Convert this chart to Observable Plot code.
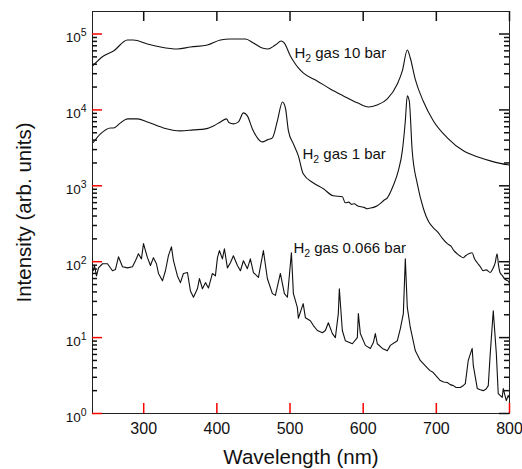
<!DOCTYPE html>
<html><head><meta charset="utf-8">
<script src="https://cdn.jsdelivr.net/npm/d3@7"></script>
<script src="https://cdn.jsdelivr.net/npm/@observablehq/plot@0.6"></script>
<style>body{margin:0;background:#fff;} svg{display:block}</style>
</head><body><div id="chart"></div>
<script>
// H2 gas 10 bar
const wl10 = [230,245,258.7,277.8,286,305,322.9,346,363.9,387,404.9,418.5,439,450,462,470,480,488,492,500.5,504.6,511.4,518,537,555,573,592,607,619,633,646.7,653.5,660.3,664.4,671,682,696,715,737,756,773.7,798,800];
const int10 = [37900,51400,59700,83400,83400,73800,67500,63500,67500,71600,83400,85900,85900,76200,65500,63500,71600,80900,76200,51400,44200,35700,30700,24100,18900,15300,12400,10900,11600,14000,22000,32600,61500,48300,25600,13100,7160,4290,2890,2410,2130,1890,1880];
// H2 gas 1 bar
const wl1 = [231,240.9,254.6,258.7,268.3,277.8,291.5,305,327,350.2,368,384.4,395.3,404.9,413,417,422.6,429.5,436.3,441.7,448.6,455.4,462.2,469,475.9,482.7,489.6,493.7,497.8,504.6,511.4,518,532,545.6,559,571.5,575.6,580,584,588,592,597,601,605.7,610,614,619.3,624,628,633,641,648,653.5,657.6,660.3,663,667,674,682,690,696,702,708,715,720,724,728.6,732,736.8,740,745,749,752,756,760,764,768,773.7,777,780.5,783,785,787,790,793,796,798,800];
const int1 = [3720,4830,5790,5790,6750,7620,7620,6950,5790,5300,5460,5620,6150,6950,7620,6750,6550,6950,9140,8340,5620,4290,3790,4030,4290,7160,12700,10600,5300,3570,2480,1440,1090,914,738,716,597,610,570,580,546,530,520,498,510,520,546,590,640,695,1000,1570,2890,7160,15300,13100,2890,1060,514,330,280,245,205,173,160,140,127,120,113,120,128,131,110,97,86,76,78,72,80,97,127,90,72,66,60,57,56,52];
// H2 gas 0.066 bar
const wl066 = [231,232.7,235.5,238.2,243.7,250.5,257.3,261.4,265.5,271,277.8,284.6,288.7,292.8,296.9,299.7,305.1,309.2,313.3,317.4,320.2,325.6,329.7,333.8,337.9,340.7,346.1,350.2,354.3,359.8,363.9,368,373.4,376.2,380.3,384.4,388.5,393.9,398,400.8,403.5,407.6,410.3,414.4,418.5,422.6,428.1,432.2,436.3,441.7,445.8,450,456.8,463.6,469,475.9,480,486.8,492.3,496.4,501.9,504.6,510,511.4,518,521,527.8,531.9,537.4,544.2,548.3,552.4,557.9,562,566,567.4,571.5,575.6,585.2,592,593.4,596.1,603,609.8,613.9,616.6,619.3,626.2,633,637.1,646.7,650.8,654.9,657.6,660.3,664.4,671.3,678,687.6,691,695.8,700,705.4,710,715,719,723.2,727,732.7,736,739.6,743.6,749,750.5,756,760,764.1,768,771,773.7,777.8,782,784.6,790,791.5,795.6,798.3,800];
const int066 = [76,89,65,83,94,94,76,79,116,86,83,86,103,127,109,173,113,89,113,94,70,56,76,120,157,103,65,53,70,72,41,34,44,60,44,53,45,70,65,113,140,109,148,83,97,120,89,76,103,81,109,72,62,140,60,38,36,70,38,34,131,38,25,18,28,18.3,16.7,14.4,12.4,11.6,12.4,15.7,11.3,10,20.7,44,12.4,9.1,8.3,10,20.7,11.3,7.9,7.2,8.6,11.3,8.3,7.2,6.7,7.9,9.1,13.1,20.7,109,25,13.6,6.7,5.0,4.0,3.7,3.46,3.1,2.72,2.6,2.56,2.4,2.33,2.2,2.2,2.3,2.48,5.0,7.2,4.3,2.13,2.05,2.0,2.1,2.33,6.2,22.6,6.2,1.83,1.63,2.13,1.48,1.73,1.6];

const seriesNames = ["10 bar", "1 bar", "0.066 bar"];
const labelTexts = ["H2 gas 10 bar", "H2 gas 1 bar", "H2 gas 0.066 bar"];
const labelWl = [506, 517, 504.6];
const labelI = [56000, 2600, 153];
const xTicks = [300, 400, 500, 600, 700, 800];
const yMajor = [1, 10, 100, 1000, 10000, 100000];
const yMinor = yMajor.flatMap(d => [2,3,4,5,6,7,8,9].map(k => k * d)).filter(v => v < 1.98e5);

const mk = (w, v, s) => w.map((x, i) => ({series: s, wl: x, I: v[i]}));
const rowsSmooth = [...mk(wl10, int10, seriesNames[0]), ...mk(wl1, int1, seriesNames[1])];
const rowsSharp = mk(wl066, int066, seriesNames[2]);
const labels = labelTexts.map((t, i) => ({text: t, wl: labelWl[i], I: labelI[i]}));

const W = 522, H = 469, mL = 92, mR = 13, mT = 11, mB = 56;
const fw = W - mL - mR, fh = H - mT - mB;
const font = "'Liberation Sans', Arial, Helvetica, sans-serif";
const plot = Plot.plot({
  width: W, height: H,
  marginLeft: mL, marginRight: mR, marginTop: mT, marginBottom: mB,
  style: {fontFamily: font},
  x: {domain: [230, 800]},
  y: {type: "log", domain: [1, 1.98e5]},
  marks: [
    Plot.frame({stroke: "#222"}),
    Plot.ruleX(xTicks, {insetTop: fh - 10, stroke: "red", strokeWidth: 1.5}),
    Plot.ruleX(xTicks, {insetBottom: fh - 10, stroke: "#111", strokeWidth: 1.5}),
    Plot.ruleY(yMajor, {insetRight: fw - 10, stroke: "red", strokeWidth: 1.5}),
    Plot.ruleY(yMinor, {insetRight: fw - 5, stroke: "#111", strokeWidth: 1.5}),
    Plot.ruleY(yMajor, {insetLeft: fw - 10, stroke: "#111", strokeWidth: 1.5}),
    Plot.ruleY(yMinor, {insetLeft: fw - 5, stroke: "#111", strokeWidth: 1.5}),
    Plot.axisX(xTicks, {anchor: "bottom", tickSize: 0, tickPadding: 9, label: null, fontSize: 16, fill: "#111"}),
    Plot.axisY(yMajor, {anchor: "left", tickSize: 0, tickPadding: 6, dy: 4, label: null, fontSize: 13.5, fill: "#111",
      tickFormat: d => "10^" + Math.round(Math.log10(d))}),
    Plot.line(rowsSmooth, {x: "wl", y: "I", z: "series", stroke: "#111", strokeWidth: 1.1, curve: "monotone-x"}),
    Plot.line(rowsSharp, {x: "wl", y: "I", stroke: "#111", strokeWidth: 1.1}),
    Plot.text(labels, {x: "wl", y: "I", text: "text", textAnchor: "start", fontSize: 15, fill: "#111"}),
    Plot.text(["Wavelength (nm)"], {frameAnchor: "bottom", textAnchor: "middle", lineAnchor: "middle", dy: 44, fontSize: 20.5, fill: "#111"}),
    Plot.text(["Intensity (arb. units)"], {frameAnchor: "left", textAnchor: "middle", lineAnchor: "middle", dx: -68, rotate: -90, fontSize: 20.5, fill: "#111"})
  ]
});

const NS = "http://www.w3.org/2000/svg";
function tspan(txt, attrs) {
  const e = document.createElementNS(NS, "tspan");
  for (const k in attrs) e.setAttribute(k, attrs[k]);
  e.textContent = txt;
  return e;
}
plot.querySelectorAll("text").forEach(t => {
  const s = t.textContent;
  const m = s.match(/^10\^(\d)$/);
  if (m) {
    t.textContent = "";
    t.appendChild(tspan("10", {}));
    t.appendChild(tspan(m[1], {dy: "-6", "font-size": "10.5"}));
    return;
  }
  const h = s.match(/^H2( gas .*)$/);
  if (h) {
    t.textContent = "";
    t.appendChild(tspan("H", {}));
    t.appendChild(tspan("2", {dy: "4", "font-size": "10.5"}));
    t.appendChild(tspan(h[1], {dy: "-4"}));
  }
});
document.getElementById("chart").appendChild(plot);
</script>
</body></html>
